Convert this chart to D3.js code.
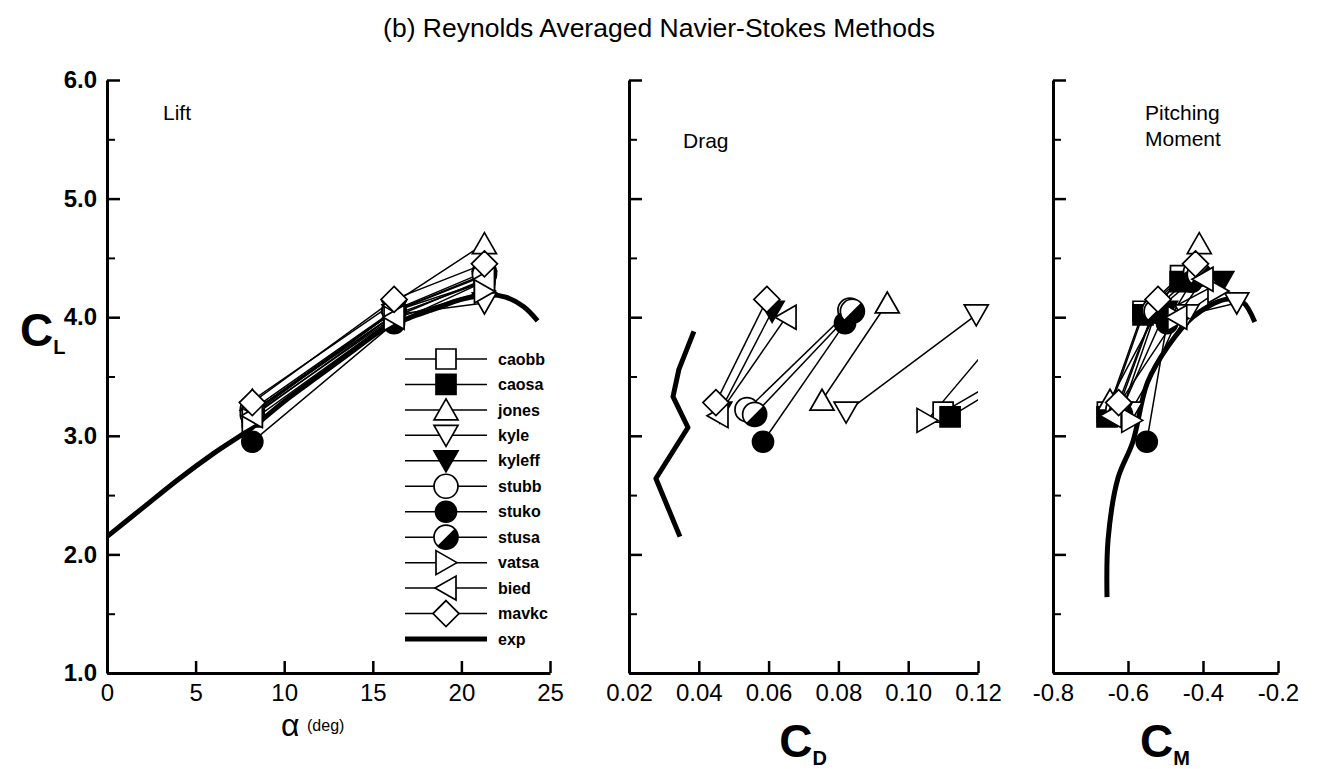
<!DOCTYPE html>
<html>
<head>
<meta charset="utf-8">
<script src="https://cdn.jsdelivr.net/npm/d3@7"></script>
<style>
  body { margin: 0; background: #fff; }
  svg { display: block; }
  text { font-family: "Liberation Sans", Arial, Helvetica, sans-serif; fill: #000; }
</style>
</head>
<body>
<div id="chart"></div>
<script>
// ---- data ----
const alphaCFD = [8.2, 16.2, 21.3];
const codes = ["caobb", "caosa", "jones", "kyle", "kyleff", "stubb", "stuko", "stusa", "vatsa", "bied", "mavkc"];
const markerShape = ["square", "square", "up", "down", "down", "circle", "circle", "circle", "right", "left", "diamond"];
const markerFill = ["white", "black", "white", "white", "black", "white", "black", "half", "white", "white", "white"];

// C_L at alpha 8.2, 16.2, 21.3
const liftCL = [
  [3.20, 4.05, 4.35],
  [3.16, 4.02, 4.30],
  [3.30, 4.12, 4.62],
  [3.20, 4.02, 4.12],
  [3.20, 4.05, 4.30],
  [3.22, 4.06, 4.38],
  [2.95, 3.95, 4.30],
  [3.18, 4.05, 4.36],
  [3.13, 3.99, 4.22],
  [3.17, 4.00, 4.32],
  [3.28, 4.15, 4.45]
];
// C_D at alpha 8.2, 16.2 (some run off the right edge)
const dragCD = [
  [0.110, 0.160],
  [0.112, 0.160],
  [0.0753, 0.094],
  [0.0822, 0.1195],
  [0.046, 0.061],
  [0.0538, 0.0833],
  [0.0584, 0.0819],
  [0.056, 0.084],
  [0.1054, 0.130],
  [0.0455, 0.065],
  [0.0449, 0.0595]
];
// C_M at alpha 8.2, 16.2, 21.3
const pitchCM = [
  [-0.655, -0.560, -0.460],
  [-0.656, -0.560, -0.461],
  [-0.648, -0.510, -0.410],
  [-0.594, -0.443, -0.310],
  [-0.620, -0.500, -0.350],
  [-0.627, -0.530, -0.420],
  [-0.550, -0.496, -0.430],
  [-0.620, -0.525, -0.410],
  [-0.590, -0.467, -0.360],
  [-0.645, -0.470, -0.400],
  [-0.625, -0.520, -0.420]
];

// experiment
const expAlpha = [0, 2, 4, 6, 8.2, 10, 12, 14, 15.5, 17, 18.5, 20, 21.5, 22.5, 23.5, 24.3];
const expCL = [2.15, 2.39, 2.63, 2.85, 3.07, 3.29, 3.51, 3.73, 3.89, 3.99, 4.07, 4.15, 4.19, 4.17, 4.09, 3.97];
const expDragCL = [2.15, 2.64, 3.07, 3.33, 3.56, 3.88];
const expDragCD = [0.0346, 0.0277, 0.0369, 0.0326, 0.0343, 0.0386];
const expPitchCL = [1.64, 2.13, 2.64, 2.95, 3.45, 3.76, 4.00, 4.15, 4.13, 3.96];
const expPitchCM = [-0.656, -0.653, -0.627, -0.587, -0.548, -0.492, -0.428, -0.340, -0.295, -0.262];

// ticks
const clMajor = [1, 2, 3, 4, 5, 6];
const clMinor = [1.5, 2.5, 3.5, 4.5, 5.5];
const liftTicks = [0, 5, 10, 15, 20, 25];
const dragTicks = [0.02, 0.04, 0.06, 0.08, 0.10, 0.12];
const pitchTicks = [-0.8, -0.6, -0.4, -0.2];

// ---- layout ----
const width = 1318, height = 769;
const y = d3.scaleLinear().domain([1, 6]).range([673, 80]);
const xLift = d3.scaleLinear().domain([0, 25]).range([107, 550]);
const xDrag = d3.scaleLinear().domain([0.02, 0.12]).range([629, 978]);
const xPitch = d3.scaleLinear().domain([-0.8, -0.2]).range([1053, 1278]);

const svg = d3.select("#chart").append("svg")
  .attr("width", width)
  .attr("height", height)
  .attr("viewBox", "0 0 " + width + " " + height);

svg.append("rect").attr("width", width).attr("height", height).attr("fill", "#fff");

svg.append("text")
  .attr("x", 659).attr("y", 37)
  .attr("text-anchor", "middle")
  .style("font-size", "26.5px")
  .text("(b) Reynolds Averaged Navier-Stokes Methods");

function drawAxes(x, ticks, fmt, yLabels, id) {
  const x0 = x.range()[0];
  const gy = svg.append("g")
    .attr("transform", "translate(" + x0 + ",0)")
    .call(d3.axisLeft(y).tickValues(clMajor).tickSizeInner(-13).tickSizeOuter(0).tickPadding(10)
      .tickFormat(yLabels ? d => d.toFixed(1) : ""));
  gy.select(".domain").attr("stroke-width", 3);
  gy.selectAll(".tick line").attr("stroke-width", 2.5);
  gy.selectAll(".tick text").style("font-size", "24px").style("font-weight", "bold")
    .style("font-family", "'Liberation Sans', Arial, sans-serif");

  const gm = svg.append("g")
    .attr("transform", "translate(" + x0 + ",0)")
    .call(d3.axisLeft(y).tickValues(clMinor).tickSizeInner(-8).tickSizeOuter(0).tickFormat(""));
  gm.select(".domain").remove();
  gm.selectAll(".tick line").attr("stroke-width", 2);

  const gx = svg.append("g")
    .attr("transform", "translate(0," + y(1) + ")")
    .call(d3.axisBottom(x).tickValues(ticks).tickSizeInner(-12).tickSizeOuter(0).tickPadding(11)
      .tickFormat(fmt));
  gx.select(".domain").attr("stroke-width", 3);
  gx.selectAll(".tick line").attr("stroke-width", 2.5);
  gx.selectAll(".tick text").style("font-size", "24px")
    .style("font-family", "'Liberation Sans', Arial, sans-serif");

  svg.append("clipPath").attr("id", id)
    .append("rect")
    .attr("x", x.range()[0]).attr("y", y(6))
    .attr("width", x.range()[1] - x.range()[0])
    .attr("height", y(1) - y(6));
}

// marker shapes
function shapePath(shape) {
  switch (shape) {
    case "square": return "M-10,-10h20v20h-20Z";
    case "up": return "M0,-11L12,10L-12,10Z";
    case "down": return "M0,11L12,-10L-12,-10Z";
    case "right": return "M11,0L-10,12L-10,-12Z";
    case "left": return "M-11,0L10,12L10,-12Z";
    case "diamond": return "M0,-13L13,0L0,13L-13,0Z";
  }
  return null;
}

function drawMarker(g, shape, fill, cx, cy) {
  const m = g.append("g").attr("transform", "translate(" + cx + "," + cy + ")");
  if (shape === "circle") {
    const r = fill === "black" ? 10.5 : 12;
    m.append("circle").attr("r", r)
      .attr("fill", fill === "black" ? "#000" : "#fff")
      .attr("stroke", "#000").attr("stroke-width", 1.7);
    if (fill === "half") {
      const a = r * Math.SQRT1_2;
      m.append("path")
        .attr("d", "M" + a + "," + (-a) + "A" + r + "," + r + " 0 0 1 " + (-a) + "," + a + "Z")
        .attr("fill", "#000");
    }
  } else {
    m.append("path").attr("d", shapePath(shape))
      .attr("fill", fill === "black" ? "#000" : "#fff")
      .attr("stroke", "#000").attr("stroke-width", 1.7)
      .attr("stroke-linejoin", "miter");
  }
}

function drawPanel(x, xs, ys, exX, exY, curve, id) {
  const line = d3.line().x(d => x(d[0])).y(d => y(d[1]));
  const clip = svg.append("g").attr("clip-path", "url(#" + id + ")");

  clip.append("path")
    .datum(d3.zip(exX, exY))
    .attr("d", line.curve(curve))
    .attr("fill", "none").attr("stroke", "#000").attr("stroke-width", 5)
    .attr("stroke-linejoin", "round");

  line.curve(d3.curveLinear);
  codes.forEach((c, i) => {
    clip.append("path")
      .datum(d3.zip(xs[i], ys[i]))
      .attr("d", line)
      .attr("fill", "none").attr("stroke", "#000").attr("stroke-width", 1.5);
  });

  const mk = svg.append("g");
  const [d0, d1] = x.domain();
  codes.forEach((c, i) => {
    xs[i].forEach((v, j) => {
      if (v < d0 - 1e-9 || v > d1 + 1e-9) return;
      drawMarker(mk, markerShape[i], markerFill[i], x(v), y(ys[i][j]));
    });
  });
}

// ---- axes ----
drawAxes(xLift, liftTicks, d => String(d), true, "clipLift");
drawAxes(xDrag, dragTicks, d => d.toFixed(2), false, "clipDrag");
drawAxes(xPitch, pitchTicks, d => d.toFixed(1), false, "clipPitch");

// ---- data ----
drawPanel(xLift, codes.map(() => alphaCFD), liftCL, expAlpha, expCL, d3.curveCatmullRom, "clipLift");
drawPanel(xDrag, dragCD, liftCL.map(r => r.slice(0, 2)), expDragCD, expDragCL, d3.curveLinear, "clipDrag");
drawPanel(xPitch, pitchCM, liftCL, expPitchCM, expPitchCL, d3.curveCatmullRom, "clipPitch");

// ---- legend ----
const leg = svg.append("g");
const legY = d3.scalePoint().domain(codes.concat(["exp"])).range([359, 639]);
codes.forEach((c, i) => {
  const ly = legY(c);
  leg.append("line").attr("x1", 405).attr("x2", 487).attr("y1", ly).attr("y2", ly)
    .attr("stroke", "#000").attr("stroke-width", 1.5);
  drawMarker(leg, markerShape[i], markerFill[i], 446, ly);
  leg.append("text").attr("x", 498).attr("y", ly).attr("dy", "0.35em")
    .style("font-size", "16px").style("font-weight", "bold").text(c);
});
leg.append("line").attr("x1", 405).attr("x2", 487).attr("y1", legY("exp")).attr("y2", legY("exp"))
  .attr("stroke", "#000").attr("stroke-width", 5);
leg.append("text").attr("x", 498).attr("y", legY("exp")).attr("dy", "0.35em")
  .style("font-size", "16px").style("font-weight", "bold").text("exp");

// ---- panel titles ----
svg.append("text").attr("x", 163).attr("y", 120).style("font-size", "21px").text("Lift");
svg.append("text").attr("x", 683).attr("y", 148).style("font-size", "21px").text("Drag");
svg.append("text").attr("x", 1145).attr("y", 120).style("font-size", "21px").text("Pitching");
svg.append("text").attr("x", 1145).attr("y", 146).style("font-size", "21px").text("Moment");

// ---- axis titles ----
const cl = svg.append("text").attr("x", 20).attr("y", 346)
  .style("font-size", "46px").style("font-weight", "bold");
cl.append("tspan").text("C");
cl.append("tspan").attr("dy", 8).style("font-size", "20px").text("L");

svg.append("text").attr("x", 281).attr("y", 736).style("font-size", "32px").text("α");
svg.append("text").attr("x", 307).attr("y", 731).style("font-size", "16px").text("(deg)");

const cdl = svg.append("text").attr("x", 803).attr("y", 757).attr("text-anchor", "middle")
  .style("font-size", "46px").style("font-weight", "bold");
cdl.append("tspan").text("C");
cdl.append("tspan").attr("dy", 8).style("font-size", "20px").text("D");

const cml = svg.append("text").attr("x", 1165).attr("y", 757).attr("text-anchor", "middle")
  .style("font-size", "46px").style("font-weight", "bold");
cml.append("tspan").text("C");
cml.append("tspan").attr("dy", 8).style("font-size", "20px").text("M");
</script>
</body>
</html>
